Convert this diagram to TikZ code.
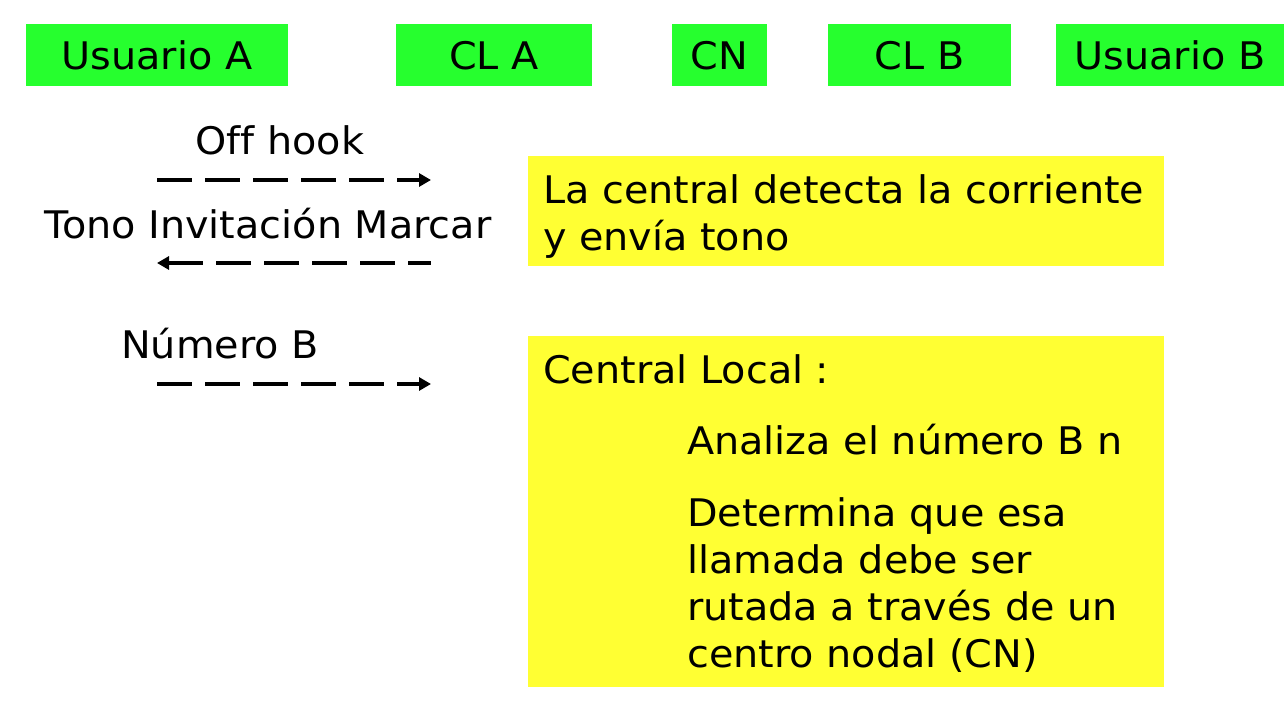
\documentclass[tikz,border=0pt]{standalone}
\usepackage{fontspec}
\setmainfont[FakeStretch=1.045,Ligatures={NoCommon}]{DejaVu Sans}
\usetikzlibrary{arrows.meta}
\definecolor{hdrgreen}{RGB}{38,255,46}
\definecolor{noteyellow}{RGB}{255,255,51}
\tikzset{
  hdr/.style={fill=hdrgreen, inner sep=0pt, minimum height=62pt, text height=28pt, text depth=0pt, font=\fontsize{38}{46}\selectfont},
  notebox/.style={fill=noteyellow, inner sep=0pt, anchor=north west},
  txt/.style={inner sep=0pt, font=\fontsize{38}{46}\selectfont},
  msg/.style={line width=4pt, dash pattern=on 35pt off 13pt, -{Triangle[length=12pt,width=13pt]}},
  msgback/.style={line width=4pt, dash pattern=on 35pt off 13pt, {Triangle[length=12pt,width=13pt]}-}
}
\begin{document}
\begin{tikzpicture}[x=1pt,y=-1pt]
\useasboundingbox (0,0) rectangle (1288,704);
% header boxes
\node[hdr, minimum width=262pt] (ua) at (157,55) {Usuario A};
\node[hdr, minimum width=196pt] (cla) at (494,55) {CL A};
\node[hdr, minimum width=95pt] (cn) at (719.5,55) {CN};
\node[hdr, minimum width=183pt] (clb) at (919.5,55) {CL B};
\node[hdr, minimum width=228pt] (ub) at (1170,55) {Usuario B};
% yellow boxes
\node[notebox, minimum width=636pt, minimum height=110pt] (n1) at (528,156) {};
\node[notebox, minimum width=636pt, minimum height=351pt] (n2) at (528,336) {};
% note texts
\node[txt, anchor=base west] (t1a) at (543,203) {La central detecta la corriente};
\node[txt, anchor=base west] (t1b) at (543,250) {y envía tono};
\node[txt, anchor=base west] (t2a) at (543,383) {Central Local :};
\node[txt, anchor=base west] (t2b) at (687,454) {Analiza el número B n};
\node[txt, anchor=base west] (t2c) at (687,526) {Determina que esa};
\node[txt, anchor=base west] (t2d) at (687,573) {llamada debe ser};
\node[txt, anchor=base west] (t2e) at (687,620) {rutada a través de un};
\node[txt, anchor=base west] (t2f) at (687,667) {centro nodal (CN)};
% message labels
\node[txt, anchor=base] (l1) at (280,154) {Off hook};
\node[txt, anchor=base] (l2) at (268,238) {Tono Invitación Marcar};
\node[txt, anchor=base] (l3) at (220,358) {Número B};
% arrows
\coordinate (a1s) at (157,180);
\coordinate (a1e) at (431,180);
\coordinate (a2s) at (157,263);
\coordinate (a2e) at (431,263);
\coordinate (a3s) at (157,384);
\coordinate (a3e) at (431,384);
\draw[msg] (a1s) -- (a1e);
\draw[msgback] (a2s) -- (a2e);
\draw[msg] (a3s) -- (a3e);
\end{tikzpicture}
\end{document}
